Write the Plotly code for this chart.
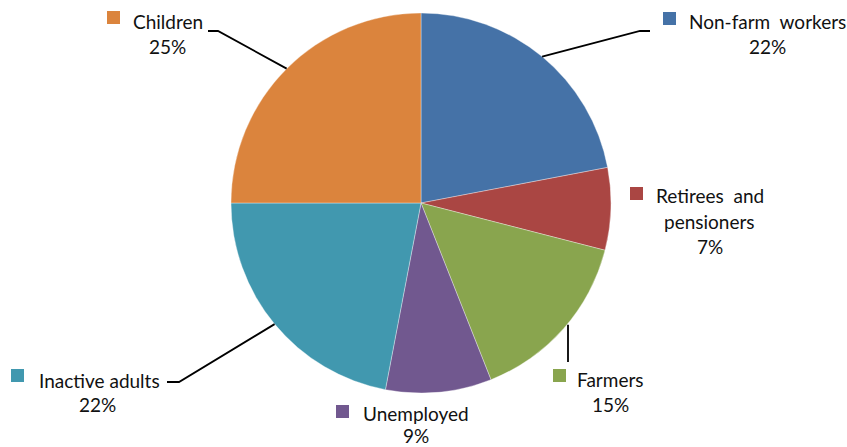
import math
import plotly.graph_objects as go

# ---- data ----
categories = ["Non-farm workers", "Retirees and pensioners", "Farmers",
              "Unemployed", "Inactive adults", "Children"]
shares = [22, 7, 15, 9, 22, 25]
colors = ["#4572A7", "#AA4643", "#89A54E", "#71588F", "#4198AF", "#DB843D"]

# ---- layout constants (pixels) ----
W, H = 847, 447
CX, CY, R = 421, 203, 190


def px(x):
    return x / W


def py(y):
    return 1 - y / H


fig = go.Figure(go.Pie(
    labels=categories, values=shares, sort=False, direction="clockwise",
    rotation=0, marker=dict(colors=colors, line=dict(color="rgba(255,255,255,0.5)", width=0.7)),
    textinfo="none", hoverinfo="label+percent", showlegend=False,
    domain=dict(x=[px(CX - R), px(CX + R)], y=[py(CY + R), py(CY - R)]),
))

NB = "\u00a0"
# label text lines: (category index, list of (text, x_center, y_mid))
label_lines = {
    0: [("Non-farm" + NB + NB + "workers", 767, 21), ("22%", 767, 46)],
    1: [("Retirees" + NB + " and", 710, 196), ("pensioners", 709, 221), ("7%", 710, 246)],
    2: [("Farmers", 610, 379), ("15%", 610, 404)],
    3: [("Unemployed", 416, 413), ("9%", 416, 435)],
    4: [("Inactive adults", 99, 380), ("22%", 97, 404)],
    5: [("Children", 168, 21), ("25%", 167, 46)],
}
# marker squares (left, top)
squares = {0: (663, 12), 1: (630, 187), 2: (553, 369), 3: (336, 405), 4: (11, 369), 5: (107, 11)}
# leader elbows: (elbow point, end point)
leaders = {
    0: [(640, 31), (650, 31)],
    5: [(218, 31), (208, 31)],
    4: [(179, 382), (167, 382)],
}

annotations = []
for i, lines in label_lines.items():
    for text, x, y in lines:
        annotations.append(dict(
            text=text, x=px(x), y=py(y), xref="paper", yref="paper",
            xanchor="center", yanchor="middle", showarrow=False, borderpad=0,
            font=dict(family="Lato", size=19, color="#111111")))

shapes = []
for i, (l, t) in squares.items():
    shapes.append(dict(type="rect", xref="paper", yref="paper",
                       x0=px(l), x1=px(l + 13), y0=py(t + 13), y1=py(t),
                       fillcolor=colors[i], line=dict(width=0)))

total = sum(shares)
cum = 0
mids = []
for v in shares:
    mids.append((cum + v / 2) / total * 2 * math.pi)
    cum += v


def edge(i):
    a = mids[i]
    return CX + R * math.sin(a), CY - R * math.cos(a)


for i, pts in leaders.items():
    x0, y0 = edge(i)
    path = f"M {px(x0)} {py(y0)}" + "".join(f" L {px(x)} {py(y)}" for x, y in pts)
    shapes.append(dict(type="path", xref="paper", yref="paper", path=path,
                       line=dict(color="black", width=1.8)))

# Farmers: vertical leader
fx, fy = edge(2)
shapes.append(dict(type="line", xref="paper", yref="paper",
                   x0=px(568), x1=px(568), y0=py(fy - 4), y1=py(362),
                   line=dict(color="black", width=1.8)))

fig.update_layout(
    width=W, height=H, margin=dict(l=0, r=0, t=0, b=0),
    paper_bgcolor="white", plot_bgcolor="white",
    annotations=annotations, shapes=shapes,
)
fig.write_html("out.html", config={"displayModeBar": False},
               post_script="document.body.style.margin='0';document.body.style.overflow='hidden';")
